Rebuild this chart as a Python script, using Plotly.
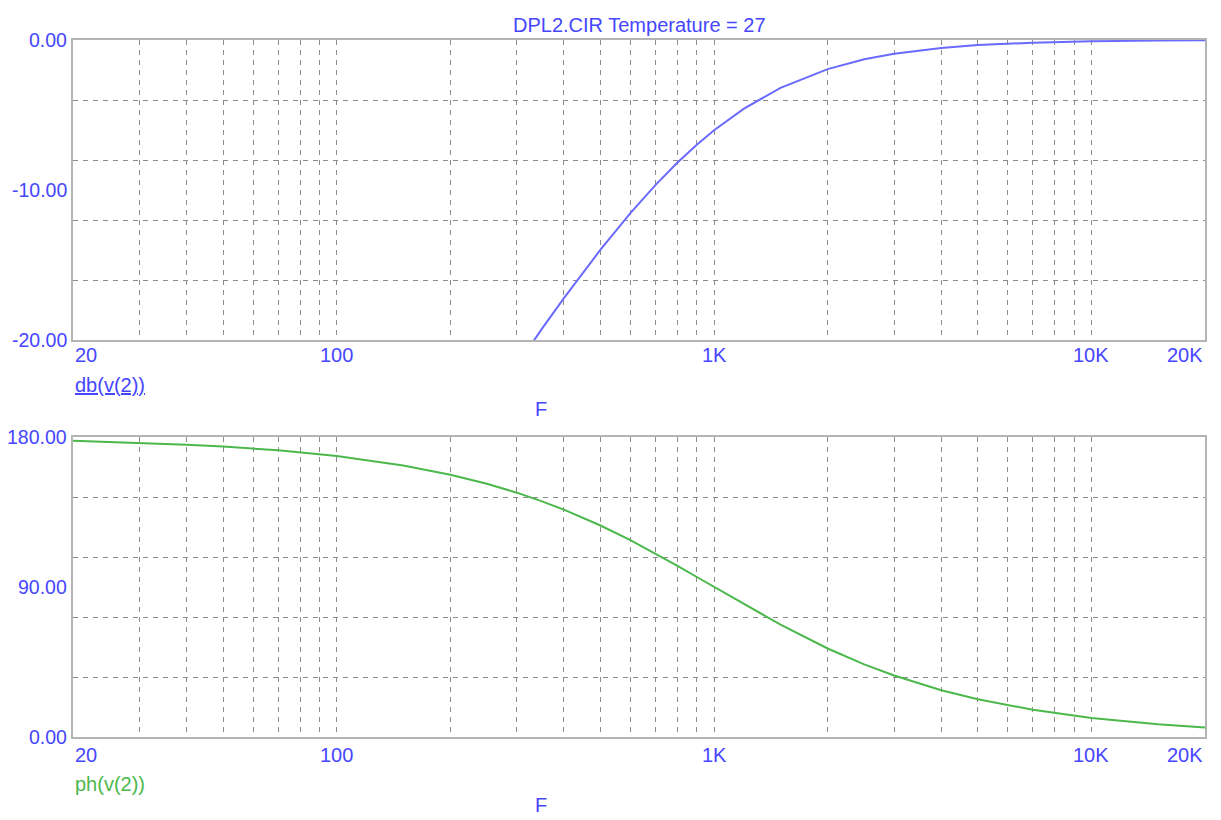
import math
import plotly.graph_objects as go

# ---- data ----
freq = [20, 30, 40, 50, 70, 100, 150, 200, 250, 300, 350, 400, 500, 600, 700,
        800, 900, 1000, 1200, 1500, 2000, 2500, 3000, 4000, 5000, 7000,
        10000, 15000, 20000]
db_v2 = [-67.96, -60.92, -55.96, -52.06, -46.22, -40.09, -33.15, -28.30, -24.61,
         -21.67, -19.24, -17.21, -13.98, -11.54, -9.66, -8.17, -6.98, -6.02,
         -4.58, -3.19, -1.94, -1.29, -0.92, -0.53, -0.34, -0.18, -0.09, -0.04,
         -0.02]
ph_v2 = [177.7, 176.6, 175.4, 174.3, 172.0, 168.6, 162.9, 157.4, 152.0, 146.6,
         141.4, 136.4, 126.9, 118.1, 110.0, 102.7, 96.0, 90.0, 79.6, 67.4, 53.1,
         43.6, 36.9, 28.1, 22.6, 16.3, 11.4, 7.6, 5.7]

x_tick_vals = [20, 100, 1000, 10000, 20000]
x_tick_text = ["20", "100", "1K", "10K", "20K"]
db_tick_vals = [0, -10, -20]
db_tick_text = ["0.00", "-10.00", "-20.00"]
ph_tick_vals = [180, 90, 0]
ph_tick_text = ["180.00", "90.00", "0.00"]
db_grid = [-4, -8, -12, -16]
ph_grid = [36, 72, 108, 144]
x_grid = [m * 10 ** e for e in (1, 2, 3) for m in range(1, 10)
          if 20 < m * 10 ** e <= 10000] + [10000]

title_text = "DPL2.CIR Temperature = 27"

# ---- styling (positions in page pixels; body margin removed by post_script) ----
W, H = 1221, 820
L, R = 73, 1205
TOP1, BOT1 = 40, 340
TOP2, BOT2 = 437, 737
BLUE_TXT = "#4646ff"
BLUE_LINE = "#6a6aff"
GREEN = "#4cb84c"
FRAME = "#b4b4b4"
GRID = "#8c8c8c"
FONT = "Liberation Sans, Arial, sans-serif"
FS = 20
FS_Y = 19.5

def py(p):  # pixel y -> paper y
    return (BOT2 - p) / (BOT2 - TOP1)

def px(p):  # pixel x -> paper x
    return (p - L) / (R - L)

fig = go.Figure()
fig.add_trace(go.Scatter(x=freq, y=db_v2, mode="lines", xaxis="x", yaxis="y",
                         line=dict(color=BLUE_LINE, width=2), showlegend=False))
fig.add_trace(go.Scatter(x=freq, y=ph_v2, mode="lines", xaxis="x2", yaxis="y2",
                         line=dict(color=GREEN, width=2), showlegend=False))

xcommon = dict(type="log", range=[math.log10(20), math.log10(20000)],
               tickvals=x_grid, showticklabels=False, ticks="",
               showgrid=True, gridcolor=GRID, gridwidth=1, griddash="5px,5px",
               showline=True, linecolor=FRAME, linewidth=2, mirror=True,
               zeroline=False, layer="below traces")
ycommon = dict(showticklabels=False, ticks="", showgrid=True, gridcolor=GRID,
               gridwidth=1, griddash="5px,5px", showline=True, linecolor=FRAME,
               linewidth=2, mirror=True, zeroline=False, layer="below traces")

top_dom = [py(BOT1), 1.0]
bot_dom = [0.0, py(TOP2)]

fig.update_layout(
    width=W, height=H,
    margin=dict(l=L, r=W - R, t=TOP1, b=H - BOT2, pad=0),
    paper_bgcolor="white", plot_bgcolor="white",
    xaxis=dict(xcommon, domain=[0, 1], anchor="y"),
    yaxis=dict(ycommon, domain=top_dom, range=[-20, 0], tickvals=db_grid, anchor="x"),
    xaxis2=dict(xcommon, domain=[0, 1], anchor="y2"),
    yaxis2=dict(ycommon, domain=bot_dom, range=[0, 180], tickvals=ph_grid, anchor="x2"),
)

ann = []
font = dict(family=FONT, size=FS, color=BLUE_TXT)
yfont = dict(family=FONT, size=FS_Y, color=BLUE_TXT)
ann.append(dict(text=title_text, xref="paper", yref="paper", x=0.5, y=py(25),
                xanchor="center", yanchor="middle", showarrow=False, font=font))
for xr, yc in (("x", 355), ("x2", 755)):
    for v, t in zip(x_tick_vals, x_tick_text):
        if v == x_tick_vals[0]:
            xa = "left"
        elif v == x_tick_vals[-1]:
            xa = "right"
        else:
            xa = "center"
        ann.append(dict(text=t, xref=xr, yref="paper", x=math.log10(v), y=py(yc),
                        xanchor=xa, yanchor="middle", showarrow=False, font=font))
for v, t in zip(db_tick_vals, db_tick_text):
    ann.append(dict(text=t, xref="paper", yref="y", x=px(69), y=v,
                    xanchor="right", yanchor="middle", showarrow=False, font=yfont))
for v, t in zip(ph_tick_vals, ph_tick_text):
    ann.append(dict(text=t, xref="paper", yref="y2", x=px(69), y=v,
                    xanchor="right", yanchor="middle", showarrow=False, font=yfont))
ann.append(dict(text="<u>db(v(2))</u>", xref="paper", yref="paper", x=0, y=py(385),
                xanchor="left", yanchor="middle", showarrow=False, font=font))
ann.append(dict(text="ph(v(2))", xref="paper", yref="paper", x=0, y=py(784),
                xanchor="left", yanchor="middle", showarrow=False,
                font=dict(family=FONT, size=FS, color=GREEN)))
ann.append(dict(text="F", xref="paper", yref="paper", x=px(541), y=py(409),
                xanchor="center", yanchor="middle", showarrow=False, font=font))
ann.append(dict(text="F", xref="paper", yref="paper", x=px(541), y=py(805),
                xanchor="center", yanchor="middle", showarrow=False, font=font))
fig.update_layout(annotations=ann)

fig.write_html("out.html",
               config={"displayModeBar": False},
               post_script="document.body.style.margin='0';"
                           "document.body.style.overflow='hidden';")
